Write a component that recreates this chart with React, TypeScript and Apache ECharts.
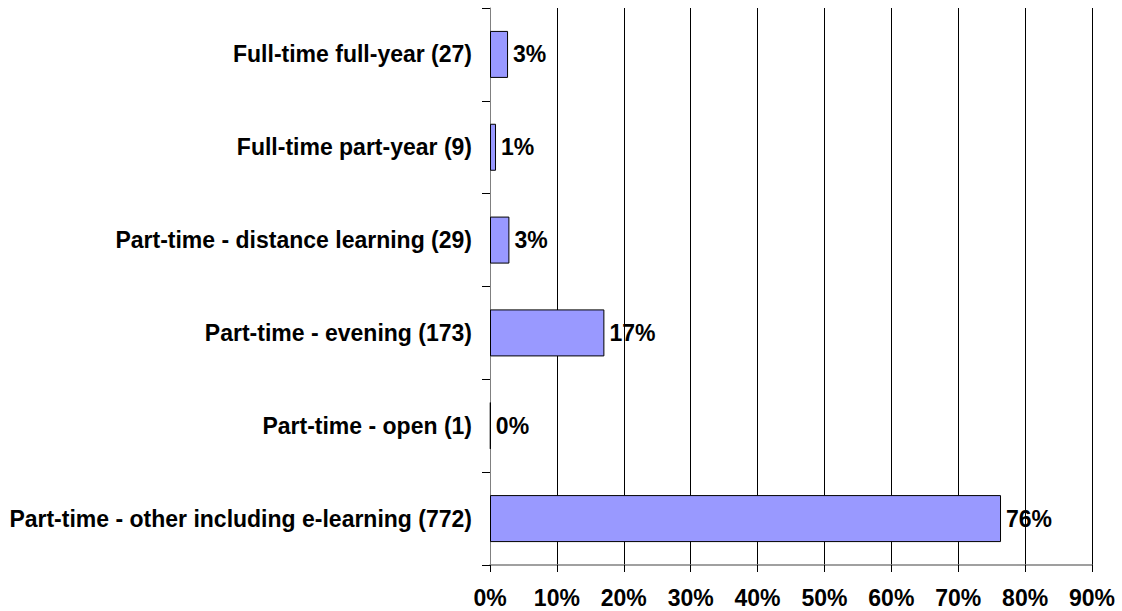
import React, { useEffect, useRef } from "react";
import * as echarts from "echarts";

const categories = [
  "Full-time full-year (27)",
  "Full-time part-year (9)",
  "Part-time - distance learning (29)",
  "Part-time - evening (173)",
  "Part-time - open (1)",
  "Part-time - other including e-learning (772)",
];
const values = [2.7, 0.9, 2.9, 17.1, 0.1, 76.4];
const xMin = 0;
const xMax = 90;
const xInterval = 10;

const FONT = "Arial, 'Liberation Sans', sans-serif";

export default function App() {
  const ref = useRef<HTMLDivElement>(null);
  useEffect(() => {
    if (!ref.current) return;
    const chart = echarts.init(ref.current, null, { renderer: "svg" });
    chart.setOption({
      animation: false,
      backgroundColor: "#ffffff",
      grid: { left: 490, right: 30, top: 8, bottom: 46, containLabel: false },
      xAxis: {
        type: "value",
        min: xMin,
        max: xMax,
        interval: xInterval,
        axisLine: { show: true, lineStyle: { color: "#808080", width: 1.5 } },
        axisTick: { show: true, length: 7, lineStyle: { color: "#000" } },
        splitLine: { show: true, lineStyle: { color: "#000", width: 1 } },
        axisLabel: {
          formatter: "{value}%",
          fontFamily: FONT,
          fontWeight: "bold",
          fontSize: 23,
          color: "#000",
          margin: 21,
        },
      },
      yAxis: {
        type: "category",
        inverse: true,
        data: categories,
        axisLine: { show: true, lineStyle: { color: "#808080", width: 1 } },
        axisTick: { show: true, length: 8, lineStyle: { color: "#000" } },
        splitLine: { show: false },
        axisLabel: {
          fontFamily: FONT,
          fontWeight: "bold",
          fontSize: 23,
          color: "#000",
          margin: 18,
        },
      },
      series: [
        {
          type: "bar",
          data: values,
          barWidth: 47,
          itemStyle: { color: "#9999FF", borderColor: "#000", borderWidth: 1 },
          label: {
            show: true,
            position: "right",
            distance: 5,
            formatter: (p: any) => Math.round(p.value) + "%",
            fontFamily: FONT,
            fontWeight: "bold",
            fontSize: 23,
            color: "#000",
          },
        },
      ],
    });
    return () => chart.dispose();
  }, []);
  return (
    <div
      ref={ref}
      style={{ position: "fixed", left: 0, top: 0, width: 1122, height: 611 }}
    />
  );
}
